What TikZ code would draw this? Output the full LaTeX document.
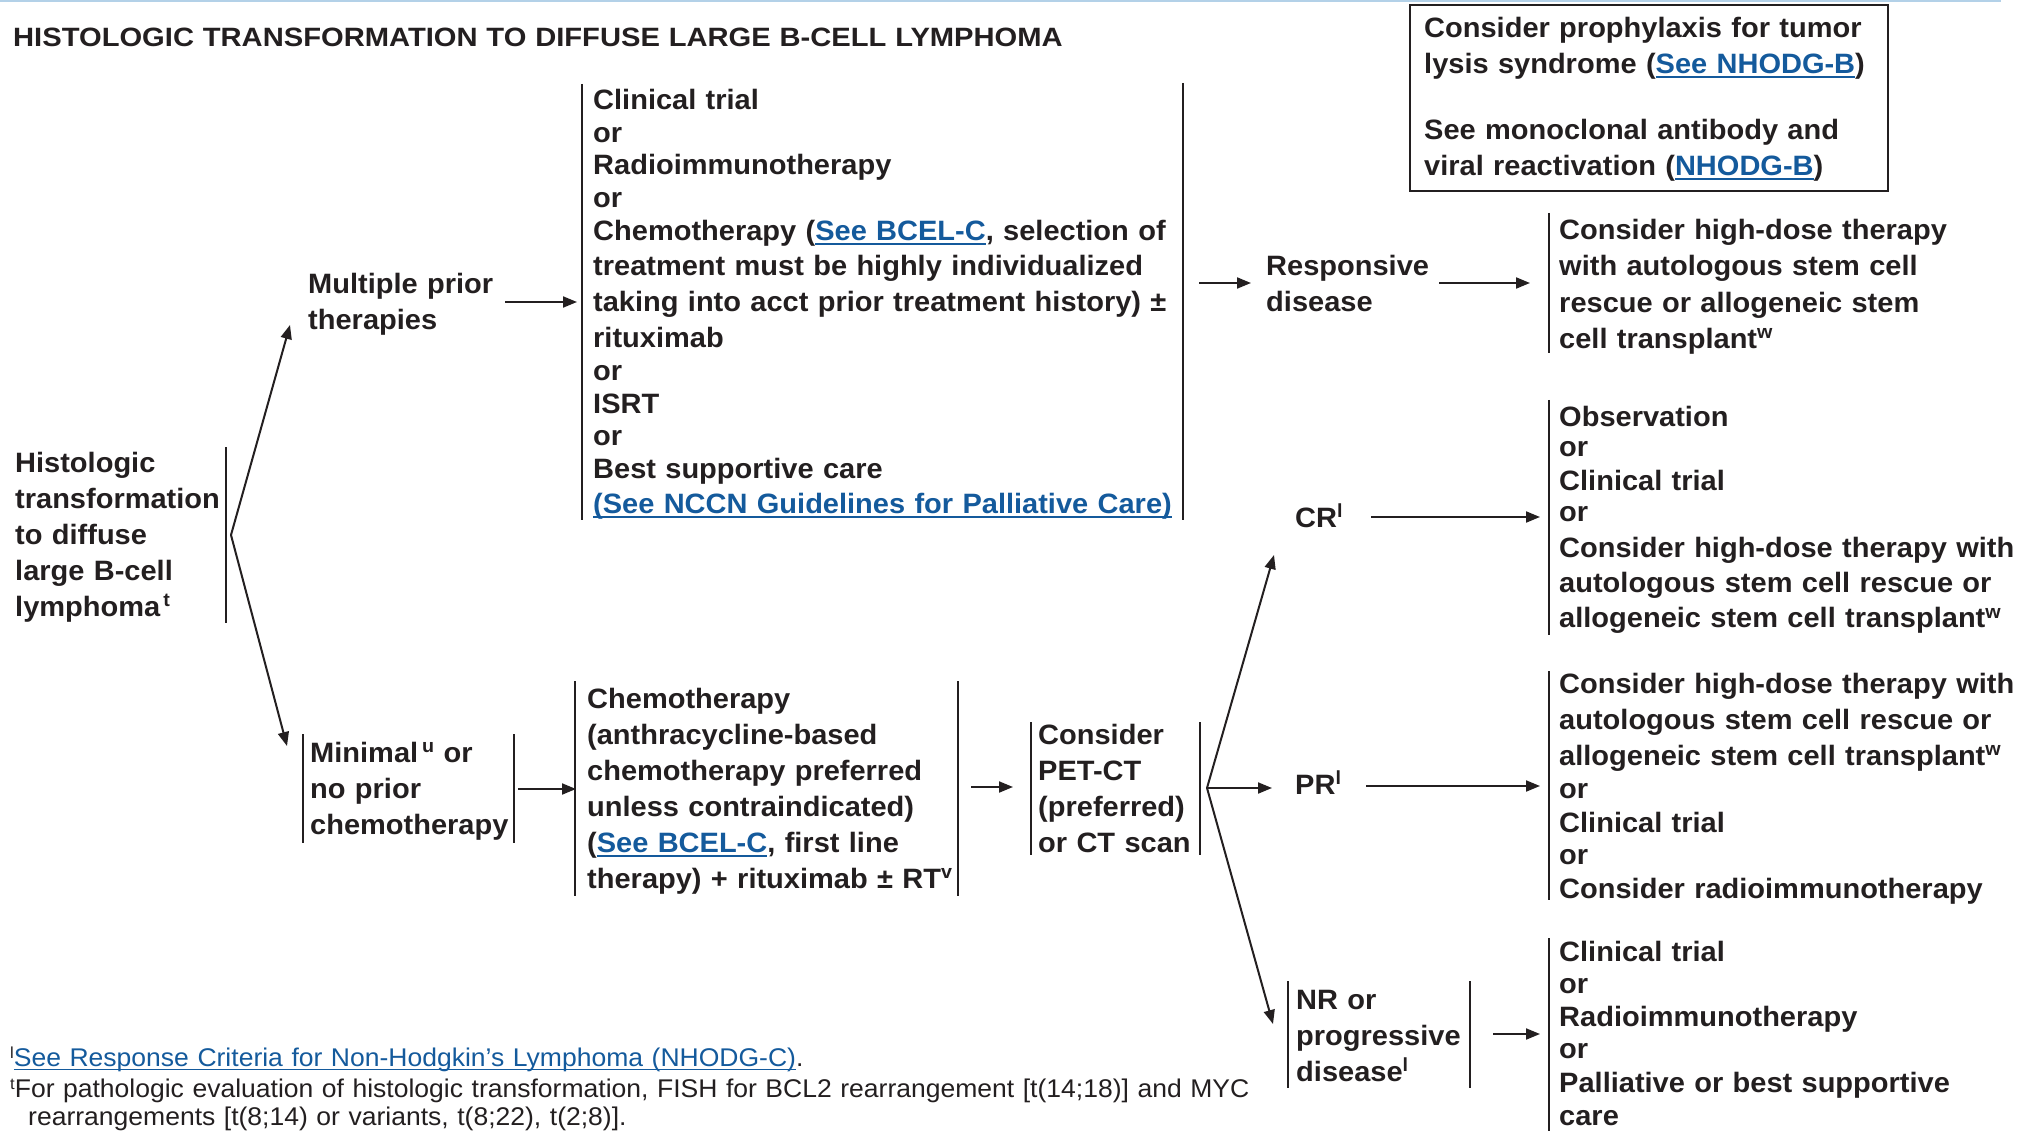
\documentclass[tikz,border=0pt]{standalone}
\usepackage{fontspec}
\setmainfont{Liberation Sans}[FakeStretch=1.036]
\newfontfamily\titlefont{Liberation Sans}[FakeStretch=1.10]
\usetikzlibrary{arrows.meta}
\definecolor{ink}{HTML}{231F20}
\definecolor{linkblue}{HTML}{145A9C}
\definecolor{rulecol}{HTML}{B3D1E8}
\newcommand\lnk[1]{\textcolor{linkblue}{\setbox0\hbox{#1}\rlap{\rule[-4.5pt]{\wd0}{2pt}}\box0}}
\newcommand\flnk[1]{\textcolor{linkblue}{\setbox0\hbox{#1}\rlap{\rule[-4pt]{\wd0}{1.5pt}}\box0}}
\newcommand\sps[1]{\raisebox{10pt}{\fontsize{19}{19}\selectfont #1}}
\newcommand\fsp[1]{\raisebox{8pt}{\fontsize{16}{16}\selectfont #1}}
\begin{document}
\begin{tikzpicture}[x=1pt,y=-1pt,
  txt/.style={inner sep=0pt, anchor=base west, align=left, text=ink, text width=#1,
    font=\bfseries\fontsize{28}{36}\selectfont},
  txt/.default=600pt,
  bar/.style={draw=ink, line width=2.3pt},
  arr/.style={draw=ink, line width=2pt, -{Triangle[length=14pt,width=11pt]}}]
\useasboundingbox (0,0) rectangle (2024,1131);
\fill[rulecol] (0,0) rectangle (2001,2.5);

% title
\node[txt=1200pt, font=\titlefont\bfseries\fontsize{26.5}{30}\selectfont] (title) at (13,47)
  {HISTOLOGIC TRANSFORMATION TO DIFFUSE LARGE B-CELL LYMPHOMA};

% top-right box
\draw[ink, line width=2.5pt] (1410,5) rectangle (1888,191);
\node[txt=470pt] (tls) at (1424,38) {Consider prophylaxis for tumor\\
lysis syndrome (\lnk{See NHODG-B})\\[30pt]
See monoclonal antibody and\\
viral reactivation (\lnk{NHODG-B})};

% left
\node[txt=220pt] (hist) at (15,472.5) {Histologic\\transformation\\to diffuse\\large B-cell\\lymphoma\kern3pt\sps{t}};
\draw[bar] (226,447) -- (226,623);
\coordinate (histapex) at (231,535);
\coordinate (multiin) at (290,325);
\coordinate (minin) at (287,746);
\draw[arr] (histapex) -- (multiin);
\draw[arr] (histapex) -- (minin);

% upper path
\node[txt=260pt] (multi) at (308,294) {Multiple prior\\therapies};
\coordinate (multiout) at (505,302);
\coordinate (bigin) at (577,302);
\draw[arr] (multiout) -- (bigin);

\node[txt=640pt] (bigblk) at (593,110) {Clinical trial\\[-3pt]
or\\[-4pt]
Radioimmunotherapy\\[-3pt]
or\\[-3pt]
Chemotherapy (\lnk{See BCEL-C}, selection of\\[-1pt]
treatment must be highly individualized\\
taking into acct prior treatment history) \textpm\\
rituximab\\[-3pt]
or\\[-3pt]
ISRT\\[-4pt]
or\\[-3pt]
Best supportive care\\[-1pt]
\lnk{(See NCCN Guidelines for Palliative Care)}};
\draw[bar] (582,84) -- (582,520);
\draw[bar] (1183,83) -- (1183,520);
\coordinate (bigout) at (1199,283);
\coordinate (respin) at (1251,283);
\draw[arr] (bigout) -- (respin);

\node[txt=200pt] (resp) at (1266,276) {Responsive\\disease};
\coordinate (respout) at (1439,283);
\coordinate (blkonein) at (1530,283);
\draw[arr] (respout) -- (blkonein);

\node[txt=460pt, font=\bfseries\fontsize{28}{36.5}\selectfont] (blk1) at (1559,239.5)
  {Consider high-dose therapy\\with autologous stem cell\\rescue or allogeneic stem\\cell transplant\sps{w}};
\draw[bar] (1549,213) -- (1549,353);

% lower path
\node[txt=230pt] (minimal) at (310,762) {Minimal\kern4pt\sps{u} or\\no prior\\chemotherapy};
\draw[bar] (303,734) -- (303,843);
\draw[bar] (514,734) -- (514,843);
\coordinate (minout) at (518,789);
\coordinate (chemoin) at (576,789);
\draw[arr] (minout) -- (chemoin);

\node[txt=380pt] (chemo) at (587,708) {Chemotherapy\\(anthracycline-based\\chemotherapy preferred\\unless contraindicated)\\(\lnk{See BCEL-C}, first line\\therapy) + rituximab \textpm\ RT\sps{v}};
\draw[bar] (575,681) -- (575,896);
\draw[bar] (958,681) -- (958,896);
\coordinate (chemoout) at (971,787);
\coordinate (petin) at (1013,787);
\draw[arr] (chemoout) -- (petin);

\node[txt=170pt] (pet) at (1038,744) {Consider\\PET-CT\\(preferred)\\or CT scan};
\draw[bar] (1031,722) -- (1031,855);
\draw[bar] (1200,722) -- (1200,855);
\coordinate (petapex) at (1207,788);
\coordinate (crin) at (1274,555);
\coordinate (prin) at (1272,788);
\coordinate (nrin) at (1273,1024);
\draw[arr] (petapex) -- (crin);
\draw[arr] (petapex) -- (prin);
\draw[arr] (petapex) -- (nrin);

% CR
\node[txt=80pt] (cr) at (1295,527) {CR\sps{l}};
\coordinate (crout) at (1371,517);
\coordinate (blktwoin) at (1540,517);
\draw[arr] (crout) -- (blktwoin);
\node[txt=470pt] (blk2) at (1559,426) {Observation\\[-5pt]
or\\[-2pt]
Clinical trial\\[-5pt]
or\\[-1pt]
Consider high-dose therapy with\\[-1pt]
autologous stem cell rescue or\\
allogeneic stem cell transplant\sps{w}};
\draw[bar] (1549,400) -- (1549,635);

% PR
\node[txt=80pt] (pr) at (1295,794) {PR\sps{l}};
\coordinate (prout) at (1366,786);
\coordinate (blkthreein) at (1540,786);
\draw[arr] (prout) -- (blkthreein);
\node[txt=470pt] (blk3) at (1559,693) {Consider high-dose therapy with\\
autologous stem cell rescue or\\
allogeneic stem cell transplant\sps{w}\\[-3pt]
or\\[-2pt]
Clinical trial\\[-4pt]
or\\[-2pt]
Consider radioimmunotherapy};
\draw[bar] (1549,671) -- (1549,900);

% NR
\node[txt=180pt] (nr) at (1296,1009) {NR or\\progressive\\disease\sps{l}};
\draw[bar] (1288,981) -- (1288,1088);
\draw[bar] (1470,981) -- (1470,1088);
\coordinate (nrout) at (1493,1034);
\coordinate (blkfourin) at (1540,1034);
\draw[arr] (nrout) -- (blkfourin);
\node[txt=470pt] (blk4) at (1559,961) {Clinical trial\\[-4pt]
or\\[-3pt]
Radioimmunotherapy\\[-4pt]
or\\[-2pt]
Palliative or best supportive\\[-3pt]
care};
\draw[bar] (1549,938) -- (1549,1131);

% footnotes
\node[txt=1400pt, font=\fontsize{25.6}{31}\selectfont] (foot) at (10,1066)
  {\fsp{l}\flnk{See Response Criteria for Non-Hodgkin’s Lymphoma (NHODG-C)}.\\
   \fsp{t}For pathologic evaluation of histologic transformation, FISH for BCL2 rearrangement [t(14;18)] and MYC\\[-3pt]
   \hspace*{18pt}rearrangements [t(8;14) or variants, t(8;22), t(2;8)].};
\end{tikzpicture}
\end{document}
